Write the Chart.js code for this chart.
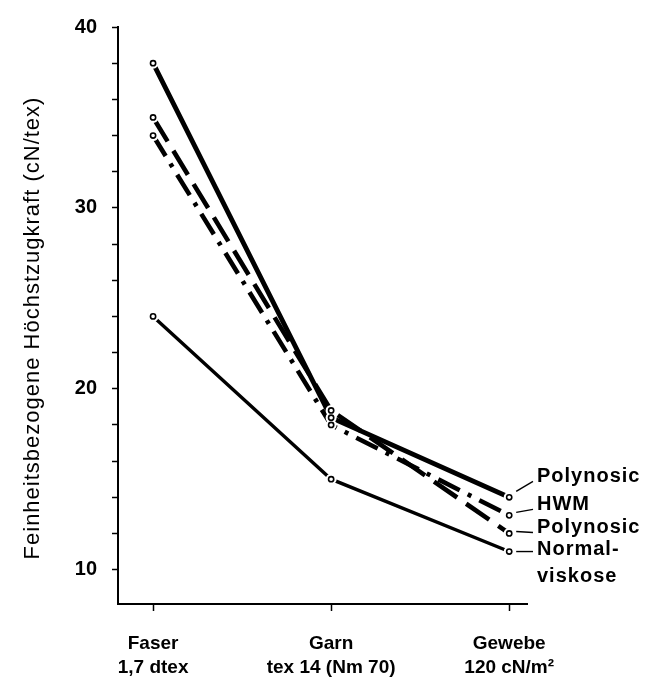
<!DOCTYPE html>
<html><head><meta charset="utf-8">
<script src="https://cdn.jsdelivr.net/npm/chart.js@4/dist/chart.umd.min.js"></script>
<style>html,body{margin:0;padding:0;background:#fff}#wrap{width:645px;height:687px;position:relative}</style>
</head><body><div id="wrap"><canvas id="c" width="645" height="687"></canvas></div>
<script>
// ---- data ----
const categories = [['Faser','1,7 dtex'],['Garn','tex 14 (Nm 70)'],['Gewebe','120 cN/m\u00B2']];
const polynosicSolid = [38, 18.4, 14];
const hwm = [34, 18.0, 13];
const polynosicDashed = [35, 18.8, 12];
const normalviskose = [24, 15, 11];
const yTickValues = [10,12,14,16,18,20,22,24,26,28,30,32,34,36,38,40];
const yLabelValues = [10,20,30,40];
const endLabels = [['Polynosic'],['HWM'],['Polynosic'],['Normal-','viskose']];
const yTitle = 'Feinheitsbezogene H\u00F6chstzugkraft (cN/tex)';

const toPts = arr => arr.map((v,i)=>({x:i,y:v}));

const labelOffsets = [[-21,-6],[-11,-3],[-6,-2],[-2,0]];

const plugin = {
  id:'annot',
  afterDatasetsDraw(chart){
    const ctx = chart.ctx;
    const metas = chart.data.datasets.map((d,i)=>chart.getDatasetMeta(i));
    ctx.save();
    ctx.fillStyle = '#fff';
    metas.forEach(m=>m.data.forEach(p=>{ctx.beginPath();ctx.arc(p.x,p.y,5.5,0,Math.PI*2);ctx.fill();}));
    ctx.strokeStyle='#000'; ctx.lineWidth=1.6;
    metas.forEach(m=>m.data.forEach(p=>{ctx.beginPath();ctx.arc(p.x,p.y,2.6,0,Math.PI*2);ctx.fill();ctx.stroke();}));
    ctx.restore();
  },
  afterDraw(chart){
    const ctx = chart.ctx;
    ctx.save();
    ctx.fillStyle='#000';
    ctx.font = '22px "Liberation Sans", Arial, sans-serif';
    try{ ctx.letterSpacing='1px'; }catch(e){}
    ctx.textAlign='center'; ctx.textBaseline='middle';
    ctx.translate(33, 328); ctx.rotate(-Math.PI/2);
    ctx.fillText(yTitle, 0, 0);
    ctx.restore();
    ctx.save();
    ctx.fillStyle='#000'; ctx.strokeStyle='#000'; ctx.lineWidth=1.4;
    ctx.font = 'bold 20px "Liberation Sans", Arial, sans-serif';
    try{ ctx.letterSpacing='1px'; }catch(e){}
    ctx.textAlign='left'; ctx.textBaseline='middle';
    const lx = 537;
    chart.data.datasets.forEach((d,i)=>{
      const m = chart.getDatasetMeta(i);
      const p = m.data[m.data.length-1];
      const off = labelOffsets[i];
      const ly = p.y + off[0];
      ctx.beginPath();
      ctx.moveTo(p.x+7, p.y + off[1]);
      ctx.lineTo(lx-4, ly + 5 + (i===3?-3:0));
      ctx.stroke();
      endLabels[i].forEach((t,k)=>ctx.fillText(t, lx, ly + k*27));
    });
    ctx.restore();
  }
};

const tickFont = {family:'"Liberation Sans", Arial, sans-serif', size:19, weight:'bold', lineHeight:1.25};

new Chart(document.getElementById('c'), {
  type:'line',
  data:{datasets:[
    {label:'Polynosic', data:toPts(polynosicSolid), borderColor:'#000', borderWidth:4.8, pointRadius:0, borderCapStyle:'butt'},
    {label:'HWM', data:toPts(hwm), borderColor:'#000', borderWidth:4.6, borderDash:[24,9,4,9], pointRadius:0, borderCapStyle:'butt'},
    {label:'Polynosic', data:toPts(polynosicDashed), borderColor:'#000', borderWidth:4.6, borderDash:[28,11], pointRadius:0, borderCapStyle:'butt'},
    {label:'Normalviskose', data:toPts(normalviskose), borderColor:'#000', borderWidth:3.4, pointRadius:0, borderCapStyle:'butt'}
  ]},
  options:{
    responsive:false, animation:false,
    layout:{padding:{left:0,right:118,top:25,bottom:0}},
    plugins:{legend:{display:false}, tooltip:{enabled:false}},
    scales:{
      x:{type:'linear', min:-0.197, max:2.1,
        afterBuildTicks:s=>{s.ticks=[0,1,2].map(v=>({value:v}));},
        afterFit:s=>{s.height=83;},
        ticks:{autoSkip:false, maxRotation:0, color:'#000', font:tickFont, padding:21, callback:v=>categories[v]},
        grid:{display:true, drawOnChartArea:false, drawTicks:true, tickLength:7, tickColor:'#000', tickWidth:1.5},
        border:{display:true, color:'#000', width:2}
      },
      y:{type:'linear', min:8.1, max:40,
        afterBuildTicks:s=>{s.ticks=yTickValues.map(v=>({value:v}));},
        afterFit:s=>{s.width=118;},
        ticks:{autoSkip:false, color:'#000', font:{family:'"Liberation Sans", Arial, sans-serif', size:20, weight:'bold'}, padding:15,
          callback:v=>yLabelValues.includes(v)?String(v):''},
        grid:{display:true, drawOnChartArea:false, drawTicks:true, tickLength:6, tickColor:'#000', tickWidth:1.5},
        border:{display:true, color:'#000', width:2}
      }
    }
  },
  plugins:[plugin]
});
</script></body></html>
